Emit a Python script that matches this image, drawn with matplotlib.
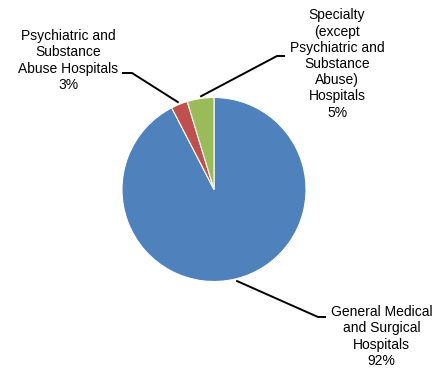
import numpy as np
import matplotlib
matplotlib.use("Agg")
import matplotlib.pyplot as plt

categories = ["General Medical\nand Surgical\nHospitals",
              "Psychiatric and\nSubstance\nAbuse Hospitals",
              "Specialty\n(except\nPsychiatric and\nSubstance\nAbuse)\nHospitals"]
values = [92.4, 2.9, 4.7]
pct_labels = ["92%", "3%", "5%"]
colors = ["#4F81BD", "#C0504D", "#9BBB59"]

W, H = 440, 370
CX, CY, R = 214, 189.5, 92

plt.rcParams['font.family'] = ['Liberation Sans', 'DejaVu Sans']
fig = plt.figure(figsize=(W / 100, H / 100), dpi=100)
ax = fig.add_axes([0, 0, 1, 1])

wedges, _ = ax.pie(values, colors=colors, startangle=90, counterclock=False,
                   radius=1, center=(0, 0),
                   wedgeprops=dict(edgecolor='white', linewidth=0.8))
ax.set_aspect('auto')
ax.set_xlim(-CX / R, (W - CX) / R)
ax.set_ylim(-(H - CY) / R, CY / R)
ax.axis('off')

def px(x, y):
    return ((x - CX) / R, (CY - y) / R)

# label layout (pixel coords): elbow, end of line, text centre
layout = [
    dict(elbow=(318, 317), end=(326, 317), text=(381.5, 336.5)),
    dict(elbow=(132, 73), end=(122, 73), text=(68.5, 60.5)),
    dict(elbow=(277, 56), end=(285, 56), text=(337, 64)),
]

for w, lab, pct, lay in zip(wedges, categories, pct_labels, layout):
    ang = np.deg2rad((w.theta1 + w.theta2) / 2)
    sx, sy = np.cos(ang) * 1.02, np.sin(ang) * 1.02
    ex, ey = px(*lay['elbow'])
    fx, fy = px(*lay['end'])
    ax.plot([sx, ex, fx], [sy, ey, fy], color='black', lw=1.4,
            solid_capstyle='butt', solid_joinstyle='miter')
    tx, ty = px(*lay['text'])
    ax.text(tx, ty, lab + "\n" + pct, ha='center', va='center',
            fontsize=10, linespacing=1.2, color='#000000')

fig.savefig("out.png", dpi=100)
